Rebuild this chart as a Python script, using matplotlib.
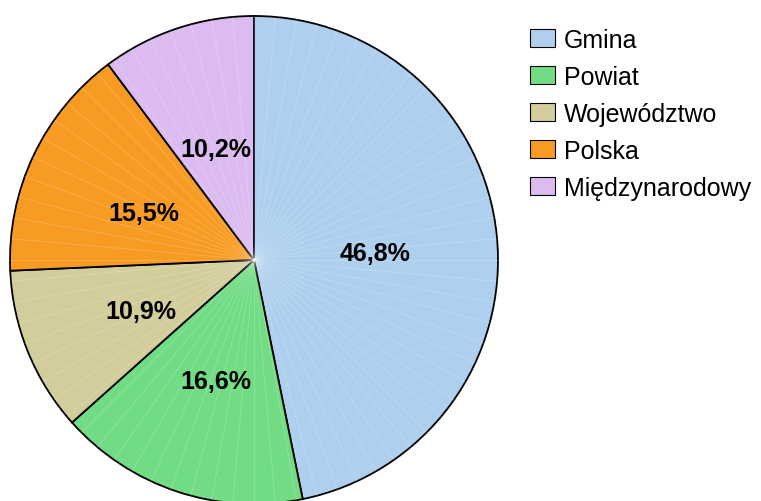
import matplotlib
matplotlib.use("Agg")
import matplotlib.pyplot as plt
import numpy as np

# dane
labels = ["Gmina", "Powiat", "Województwo", "Polska", "Międzynarodowy"]
values = [46.8, 16.6, 10.9, 15.5, 10.2]
colors = ["#aed0ee", "#72dc84", "#d2cd9b", "#f89b22", "#dcbbf1"]

plt.rcParams["font.family"] = ["Liberation Sans", "DejaVu Sans"]

W, H = 761, 502
fig = plt.figure(figsize=(W / 100, H / 100), dpi=100)
ax = fig.add_axes([0, 0, 1, 1])

cx, cy, r = 254, H - 261, 244

wedges, texts, autotexts = ax.pie(
    values, colors=colors, startangle=90, counterclock=False,
    center=(cx, cy), radius=r,
    autopct=lambda p: ("%.1f%%" % p).replace(".", ","),
    pctdistance=0.5,
    wedgeprops=dict(edgecolor="black", linewidth=1.3),
    textprops=dict(fontsize=18, fontweight="bold", color="black"),
)
# etykiety troche nizej, jak w oryginale
for t in autotexts:
    x, y = t.get_position()
    t.set_position((x, y - 5))

# slabe biale linie promieniowe (cieniowanie)
for a in np.arange(90, -270, -5):
    t = np.deg2rad(a)
    ax.plot([cx, cx + r * np.cos(t)], [cy, cy + r * np.sin(t)],
            color="white", lw=0.6, alpha=0.22, zorder=1.5)

ax.set_xlim(0, W)
ax.set_ylim(0, H)
ax.set_aspect("equal")
ax.axis("off")

leg = ax.legend(wedges, labels, loc="upper left",
                bbox_to_anchor=(530 / W, 1 - 29 / H),
                frameon=False, fontsize=18,
                handlelength=0.98, handleheight=0.72,
                handletextpad=0.36, labelspacing=0.52,
                borderaxespad=0, borderpad=0)
for h in leg.legend_handles:
    h.set_edgecolor("black")
    h.set_linewidth(0.8)

fig.savefig("out.png", dpi=100)
